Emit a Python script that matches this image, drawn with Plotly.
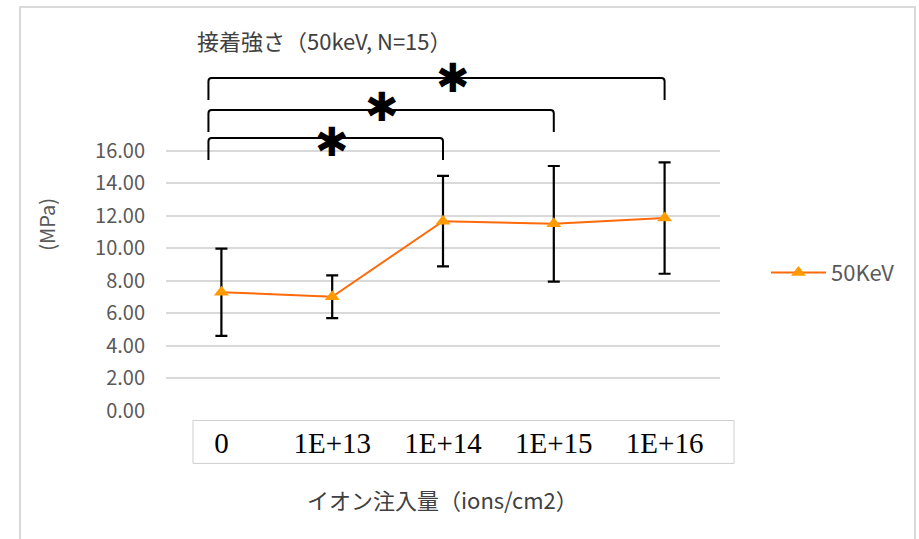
import plotly.graph_objects as go

categories = ["0", "1E+13", "1E+14", "1E+15", "1E+16"]
strength_mpa = [7.30, 7.02, 11.66, 11.50, 11.85]
error_mpa = [2.68, 1.31, 2.78, 3.55, 3.42]
y_ticks = [0, 2, 4, 6, 8, 10, 12, 14, 16]
series_name = "50KeV"

# significance brackets: (start index, end index)
brackets = [(0, 2), (0, 3), (0, 4)]
bracket_levels = [16.77, 18.49, 20.45]
star_pos = [(1.0, 16.5), (1.45, 18.65), (2.09, 20.45)]

xs = list(range(len(categories)))

fig = go.Figure()
fig.add_trace(go.Scatter(
    x=xs, y=strength_mpa, name=series_name, mode="lines+markers",
    line=dict(color="#FF6A0A", width=2),
    marker=dict(symbol="triangle-up", size=13, color="#FF9A00"),
    error_y=dict(type="data", array=error_mpa, visible=True,
                 color="#000000", thickness=2.2, width=6),
))

shapes = []
for (a, b), lvl in zip(brackets, bracket_levels):
    left = a - 0.117
    right = b
    drop = 1.35
    rx, ry = 0.03, 0.2
    path = (f"M {left},{lvl - drop} L {left},{lvl - ry} Q {left},{lvl} {left + rx},{lvl} "
            f"L {right - rx},{lvl} Q {right},{lvl} {right},{lvl - ry} L {right},{lvl - drop}")
    shapes.append(dict(type="path", path=path, xref="x", yref="y",
                       line=dict(color="#000000", width=2)))

# tick label box
shapes.append(dict(type="rect", xref="paper", yref="paper",
                   x0=0.0487, x1=1.0253, y0=-0.1498, y1=-0.0271,
                   line=dict(color="#cfcfcf", width=1)))
# chart border
shapes.append(dict(type="rect", xref="paper", yref="paper",
                   x0=-0.2635, x1=1.352, y0=-0.6, y1=1.154,
                   line=dict(color="#d9d9d9", width=2)))

annotations = []
for (sx, sy) in star_pos:
    annotations.append(dict(x=sx, y=sy, xref="x", yref="y", text="✱",
                            showarrow=False, xanchor="center", yanchor="middle",
                            font=dict(family="DejaVu Sans", size=40, color="#000000")))

annotations.append(dict(x=0.0523, y=1.06, xref="paper", yref="paper",
                        text="接着強さ（50keV, N=15）", showarrow=False,
                        xanchor="left", yanchor="middle",
                        font=dict(family="Noto Sans CJK JP", size=22, color="#404040")))
annotations.append(dict(x=-0.2148, y=0.532, xref="paper", yref="paper",
                        text="(MPa)", showarrow=False, textangle=-90,
                        xanchor="center", yanchor="middle",
                        font=dict(family="Noto Sans CJK JP", size=20, color="#595959")))
annotations.append(dict(x=0.4995, y=-0.2525, xref="paper", yref="paper",
                        text="イオン注入量（ions/cm2）", showarrow=False,
                        xanchor="center", yanchor="middle",
                        font=dict(family="Noto Sans CJK JP", size=22, color="#404040")))

fig.update_layout(
    width=919, height=539, autosize=False,
    margin=dict(l=166, r=199, t=61, b=127.5),
    paper_bgcolor="white", plot_bgcolor="white",
    shapes=shapes, annotations=annotations,
    showlegend=True,
    legend=dict(x=1.083, y=0.395, xanchor="left", yanchor="middle",
                itemwidth=55,
                font=dict(family="Noto Sans CJK JP", size=22, color="#595959"),
                bgcolor="rgba(0,0,0,0)"),
    xaxis=dict(range=[-0.5, 4.5], tickvals=xs, ticktext=categories,
               showgrid=False, zeroline=False, showline=False,
               tickfont=dict(family="Liberation Serif", size=29, color="#000000"),
               ticklabelstandoff=12),
    yaxis=dict(range=[0, 21.5], tickvals=y_ticks,
               ticktext=[f"{v:.2f}" for v in y_ticks],
               showgrid=True, gridcolor="#d9d9d9", gridwidth=1.5,
               zeroline=False, showline=False,
               tickfont=dict(family="Noto Sans CJK JP", size=20, color="#595959"),
               ticklabelstandoff=20),
)

fig.write_html("out.html", config={"displayModeBar": False})

# remove the default page margin so the figure fills the window exactly
with open("out.html", "r", encoding="utf-8") as f:
    html = f.read()
html = html.replace("<body>", '<body style="margin:0;overflow:hidden">', 1)
with open("out.html", "w", encoding="utf-8") as f:
    f.write(html)
